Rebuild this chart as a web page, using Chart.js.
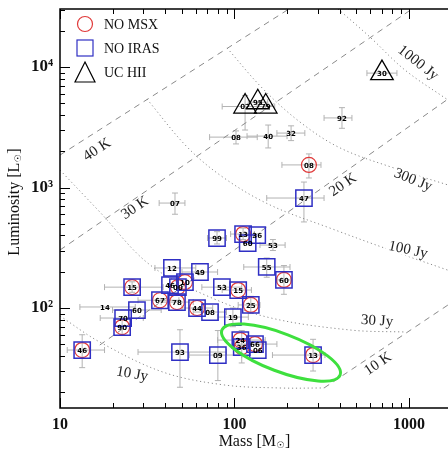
<!DOCTYPE html>
<html>
<head>
<meta charset="utf-8">
<script src="https://cdn.jsdelivr.net/npm/chart.js@4.4.1/dist/chart.umd.min.js"></script>
<style>
    html, body { margin: 0; padding: 0; background: #ffffff; overflow: hidden; }
    #wrap { width: 448px; height: 450px; }
    #lmChart { display: block; }
</style>
</head>
<body>
<div id="wrap"><canvas id="lmChart" width="448" height="450"></canvas></div>
<script>
// sources: name, mass [Msun], luminosity [Lsun]
const srcNames = ["30","02","95","79","08","40","32","92","08","47","07","99","13","36","60","53","55","60","12","49","46","00","10","15","53","15","25","67","78","44","08","60","14","70","90","19","46","93","09","24","36","66","06","13"];
const srcMass = [700,115,136,151,102,156,211,413,267,250,45.6,79.4,112,135,119,166,153,192,43.8,63.4,42.7,47.4,52,25.9,84.7,105,124,37.4,46.8,61,72.4,27.6,18.1,23,22.7,97.9,13.4,48.7,80.3,108,110,131,136,282];
const srcLum = [8900,4700,5100,4700,2620,2670,2830,3780,1540,818,743,381,411,403,346,333,219,171,215,199,155,149,164,149,149,141,106,116,112,100,92.6,96.2,102,82.6,69.5,84.1,44.8,43.1,40.7,54.2,47.4,50.2,44.8,40.7];
// T = UC HII, P = plain, S = no IRAS, O = no MSX, C = no IRAS + no MSX
const srcType = ["T","T","T","T","P","P","P","P","O","S","P","S","C","S","S","P","S","C","S","S","S","C","C","C","S","C","C","C","C","C","S","S","P","S","C","S","C","S","S","C","C","C","S","C"];

// error ranges (null = no bar)
const massLo = [574,85,120,135,72,118,175,326,187,153,37,70,95,null,null,140,113,175,35,50,null,null,null,18,65,85,105,28,38,50,58,20,13,17,null,80,11,28,55,80,null,100,null,165];
const massHi = [853,150,155,170,135,200,253,471,313,326,52,90,130,null,null,195,208,210,60,80,null,null,null,39,110,125,140,48,58,75,90,38,27,30,null,120,18,90,110,150,null,175,null,330];
const lumLo = [null,3000,null,null,2300,2130,2450,3100,1200,518,600,340,370,null,null,300,180,130,null,null,null,null,null,135,null,null,90,null,null,null,null,null,null,null,60,70,32,22,25,null,35,null,null,30];
const lumHi = [null,5800,null,null,2950,3300,3250,4600,1900,1110,900,430,460,null,null,370,260,225,null,null,null,null,null,165,null,null,125,null,null,null,null,null,null,null,80,100,60,66,65,null,65,null,null,55];

// iso-temperature lines
const t40Mass = [10, 205];     const t40Lum = [1860, 30300];
const t30Mass = [10, 1040];    const t30Lum = [303, 30300];
const t20Mass = [16.9, 1673];  const t20Lum = [49.3, 5420];
const t10Mass = [326, 1673];   const t10Lum = [21.7, 106];

// iso-flux curves
const f10Mass = [10, 16.9, 38.9, 87.1, 182, 326];
const f10Lum = [85.9, 52.2, 29.4, 23.0, 21.7, 21.7];
const f30Mass = [10, 16.9, 32.8, 72.4, 162, 465, 961];
const f30Lum = [1396, 627, 228, 123, 82.6, 65.6, 63.2];
const f100Mass = [31.5, 53.5, 87.1, 160, 352, 778, 1673];
const f100Lum = [5420, 2170, 1200, 716, 461, 303, 206];
const f300Mass = [90.6, 144, 237, 403, 820, 1673];
const f300Lum = [14400, 6700, 3500, 2130, 1452, 1050];
const f1000Mass = [392, 598, 948, 1673];
const f1000Lum = [30300, 17700, 9440, 5320];

const curveTexts = ["40 K","30 K","20 K","10 K","10 Jy","30 Jy","100 Jy","300 Jy","1000 Jy"];
const curveTextMass = [16.3, 26.9, 419, 664, 25.9, 656, 986, 1054, 1127];
const curveTextLum = [2050, 676, 1050, 34.3, 28.3, 78, 303, 1153, 10800];

// selected group (green ellipse), major axis ends
const groupMass = [84.7, 403];
const groupLum = [65.6, 27.8];

const xTickValues = [10, 100, 1000];
const xTickText = ["10", "100", "1000"];
const yTickValues = [100, 1000, 10000];
const yTickText = ["10\u00b2", "10\u00b3", "10\u2074"];

const legendText = ["NO MSX", "NO IRAS", "UC HII"];

const BLUE = "#2f2fc4";
const RED = "#e03a3a";
const GREY = "#8a8a8a";
const SERIF = '"Liberation Serif", "DejaVu Serif", serif';

const curveAngles = [-33, -34, -34, -34, 10, 3, 12, 22, 38];

function toPoints(ms, ls) {
    return ms.map((m, i) => ({ x: m, y: ls[i] }));
}

function pick(types) {
    const out = [];
    srcMass.forEach((m, i) => {
        if (types.includes(srcType[i])) out.push({ x: m, y: srcLum[i] });
    });
    return out;
}

function curve(ms, ls, dash) {
    return {
        data: toPoints(ms, ls),
        showLine: true,
        borderColor: GREY,
        borderWidth: 1,
        borderDash: dash,
        pointRadius: 0,
        tension: 0.35,
        order: 10
    };
}

function noPadding(scale) {
    scale.paddingTop = 0;
    scale.paddingBottom = 0;
    scale.paddingLeft = 0;
    scale.paddingRight = 0;
}

const errorBars = {
    id: "errorBars",
    beforeDatasetsDraw(chart) {
        const { ctx, chartArea: a, scales: { x, y } } = chart;
        ctx.save();
        ctx.beginPath();
        ctx.rect(a.left, a.top, a.right - a.left, a.bottom - a.top);
        ctx.clip();
        ctx.strokeStyle = "#b3b3b3";
        ctx.lineWidth = 1;
        ctx.beginPath();
        srcMass.forEach((m, i) => {
            const px = x.getPixelForValue(m);
            const py = y.getPixelForValue(srcLum[i]);
            if (massLo[i] !== null) {
                const x0 = x.getPixelForValue(massLo[i]);
                const x1 = x.getPixelForValue(massHi[i]);
                ctx.moveTo(x0, py); ctx.lineTo(x1, py);
                ctx.moveTo(x0, py - 3); ctx.lineTo(x0, py + 3);
                ctx.moveTo(x1, py - 3); ctx.lineTo(x1, py + 3);
            }
            if (lumLo[i] !== null) {
                const y0 = y.getPixelForValue(lumLo[i]);
                const y1 = y.getPixelForValue(lumHi[i]);
                ctx.moveTo(px, y0); ctx.lineTo(px, y1);
                ctx.moveTo(px - 3, y0); ctx.lineTo(px + 3, y0);
                ctx.moveTo(px - 3, y1); ctx.lineTo(px + 3, y1);
            }
        });
        ctx.stroke();
        ctx.restore();
    }
};

function drawSubText(ctx, main, sub, tail, cx, cy, rot) {
    ctx.save();
    ctx.translate(cx, cy);
    ctx.rotate(rot);
    ctx.fillStyle = "#111";
    ctx.textBaseline = "middle";
    ctx.textAlign = "left";
    const big = "16px " + SERIF;
    const small = '9px "DejaVu Sans"';
    ctx.font = big;
    const w1 = ctx.measureText(main).width;
    const w3 = ctx.measureText(tail).width;
    ctx.font = small;
    const w2 = ctx.measureText(sub).width;
    let xx = -(w1 + w2 + w3) / 2;
    ctx.font = big;
    ctx.fillText(main, xx, 0);
    xx += w1;
    ctx.font = small;
    ctx.fillText(sub, xx + 0.5, 4);
    xx += w2 + 1;
    ctx.font = big;
    ctx.fillText(tail, xx, 0);
    ctx.restore();
}

const overlay = {
    id: "overlay",
    afterDatasetsDraw(chart) {
        const { ctx, chartArea: a, scales: { x, y } } = chart;
        ctx.save();
        ctx.beginPath();
        ctx.rect(a.left, a.top, a.right - a.left, a.bottom - a.top);
        ctx.clip();

        // curve labels
        ctx.font = "15px " + SERIF;
        ctx.textAlign = "center";
        ctx.textBaseline = "middle";
        curveTexts.forEach((t, i) => {
            const px = x.getPixelForValue(curveTextMass[i]);
            const py = y.getPixelForValue(curveTextLum[i]);
            ctx.save();
            ctx.translate(px, py);
            ctx.rotate(curveAngles[i] * Math.PI / 180);
            const w = ctx.measureText(t).width;
            ctx.fillStyle = "#ffffff";
            ctx.fillRect(-w / 2 - 2, -6, w + 4, 12);
            ctx.fillStyle = "#222";
            ctx.fillText(t, 0, 0);
            ctx.restore();
        });

        // green group ellipse
        const ex0 = x.getPixelForValue(groupMass[0]);
        const ey0 = y.getPixelForValue(groupLum[0]);
        const ex1 = x.getPixelForValue(groupMass[1]);
        const ey1 = y.getPixelForValue(groupLum[1]);
        const semi = Math.hypot(ex1 - ex0, ey1 - ey0) / 2;
        ctx.beginPath();
        ctx.ellipse((ex0 + ex1) / 2, (ey0 + ey1) / 2, semi, semi * 0.3, Math.atan2(ey1 - ey0, ex1 - ex0), 0, Math.PI * 2);
        ctx.strokeStyle = "#3ee03e";
        ctx.lineWidth = 3;
        ctx.stroke();

        // source names
        ctx.font = 'bold 7px "DejaVu Sans"';
        ctx.fillStyle = "#000";
        srcNames.forEach((n, i) => {
            ctx.fillText(n, x.getPixelForValue(srcMass[i]), y.getPixelForValue(srcLum[i]) + 1);
        });
        ctx.restore();

        // legend
        ctx.save();
        const lx = a.left + 25;
        ctx.lineWidth = 1.2;
        ctx.strokeStyle = RED;
        ctx.beginPath();
        ctx.arc(lx, a.top + 15, 7.5, 0, Math.PI * 2);
        ctx.stroke();
        ctx.strokeStyle = BLUE;
        ctx.strokeRect(lx - 8, a.top + 31, 16, 16);
        ctx.strokeStyle = "#000";
        ctx.beginPath();
        ctx.moveTo(lx, a.top + 53);
        ctx.lineTo(lx + 10, a.top + 73);
        ctx.lineTo(lx - 10, a.top + 73);
        ctx.closePath();
        ctx.stroke();
        ctx.fillStyle = "#111";
        ctx.font = "14px " + SERIF;
        ctx.textAlign = "left";
        ctx.textBaseline = "middle";
        ctx.fillText(legendText[0], lx + 19, a.top + 16);
        ctx.fillText(legendText[1], lx + 19, a.top + 40);
        ctx.fillText(legendText[2], lx + 19, a.top + 64);
        ctx.restore();

        // axis titles
        drawSubText(ctx, "Mass [M", "\u2609", "]", 254, 442, 0);
        drawSubText(ctx, "Luminosity [L", "\u2609", "]", 15, (a.top + a.bottom) / 2 - 6, -Math.PI / 2);
    }
};

const frameAndTicks = {
    id: "frameAndTicks",
    afterDraw(chart) {
        const { ctx, chartArea: a, scales: { x, y } } = chart;
        ctx.save();
        ctx.strokeStyle = "#000";
        ctx.lineWidth = 1.5;
        ctx.beginPath();
        ctx.moveTo(a.right, a.top);
        ctx.lineTo(a.left, a.top);
        ctx.lineTo(a.left, a.bottom);
        ctx.lineTo(a.right, a.bottom);
        ctx.stroke();
        ctx.lineWidth = 1;
        ctx.beginPath();
        for (let d = 1; d <= 4; d++) {
            for (let m = 1; m <= 9; m++) {
                const v = m * Math.pow(10, d);
                const len = m === 1 ? 10 : 5;
                if (v >= x.min && v <= x.max) {
                    const px = Math.round(x.getPixelForValue(v)) + 0.5;
                    ctx.moveTo(px, a.bottom);
                    ctx.lineTo(px, a.bottom - len);
                    ctx.moveTo(px, a.top);
                    ctx.lineTo(px, a.top + len);
                }
                if (v >= y.min && v <= y.max) {
                    const py = Math.round(y.getPixelForValue(v)) + 0.5;
                    ctx.moveTo(a.left, py);
                    ctx.lineTo(a.left + len, py);
                }
            }
        }
        ctx.stroke();
        ctx.restore();
    }
};

const chart = new Chart(document.getElementById("lmChart").getContext("2d"), {
    type: "scatter",
    data: {
        datasets: [
            {
                data: pick(["P"]),
                pointRadius: 0,
                order: 5
            },
            {
                data: pick(["S", "C"]),
                pointStyle: "rect",
                pointRadius: 11.5,
                pointBorderColor: BLUE,
                pointBackgroundColor: "rgba(0,0,0,0)",
                pointBorderWidth: 1.5,
                order: 1
            },
            {
                data: pick(["O", "C"]),
                pointStyle: "circle",
                pointRadius: 7.5,
                pointBorderColor: RED,
                pointBackgroundColor: "rgba(0,0,0,0)",
                pointBorderWidth: 1.2,
                order: 2
            },
            {
                data: pick(["T"]),
                pointStyle: "triangle",
                pointRadius: 13,
                pointBorderColor: "#000",
                pointBackgroundColor: "rgba(0,0,0,0)",
                pointBorderWidth: 1.3,
                order: 3
            },
            curve(t40Mass, t40Lum, [6, 5]),
            curve(t30Mass, t30Lum, [6, 5]),
            curve(t20Mass, t20Lum, [6, 5]),
            curve(t10Mass, t10Lum, [6, 5]),
            curve(f10Mass, f10Lum, [1.2, 2.8]),
            curve(f30Mass, f30Lum, [1.2, 2.8]),
            curve(f100Mass, f100Lum, [1.2, 2.8]),
            curve(f300Mass, f300Lum, [1.2, 2.8]),
            curve(f1000Mass, f1000Lum, [1.2, 2.8])
        ]
    },
    options: {
        responsive: false,
        animation: false,
        layout: { autoPadding: false, padding: { top: 9, right: 0, left: 0, bottom: 0 } },
        plugins: {
            legend: { display: false },
            tooltip: { enabled: false }
        },
        scales: {
            x: {
                type: "logarithmic",
                min: 10,
                max: 1673,
                grid: { display: false, drawTicks: false },
                border: { display: false },
                afterBuildTicks: (scale) => {
                    scale.ticks = xTickValues.map(v => ({ value: v }));
                },
                afterFit: (scale) => {
                    scale.height = 42;
                    noPadding(scale);
                },
                ticks: {
                    autoSkip: false,
                    maxRotation: 0,
                    padding: 7,
                    color: "#111",
                    font: { family: SERIF, size: 16, weight: "bold" },
                    callback: (v) => xTickText[xTickValues.indexOf(v)]
                }
            },
            y: {
                type: "logarithmic",
                min: 14.8,
                max: 30300,
                grid: { display: false, drawTicks: false },
                border: { display: false },
                afterBuildTicks: (scale) => {
                    scale.ticks = yTickValues.map(v => ({ value: v }));
                },
                afterFit: (scale) => {
                    scale.width = 60;
                    noPadding(scale);
                },
                ticks: {
                    autoSkip: false,
                    padding: 7,
                    color: "#111",
                    font: { family: SERIF, size: 17, weight: "bold" },
                    callback: (v) => yTickText[yTickValues.indexOf(v)]
                }
            }
        }
    },
    plugins: [errorBars, overlay, frameAndTicks]
});
</script>
</body>
</html>
